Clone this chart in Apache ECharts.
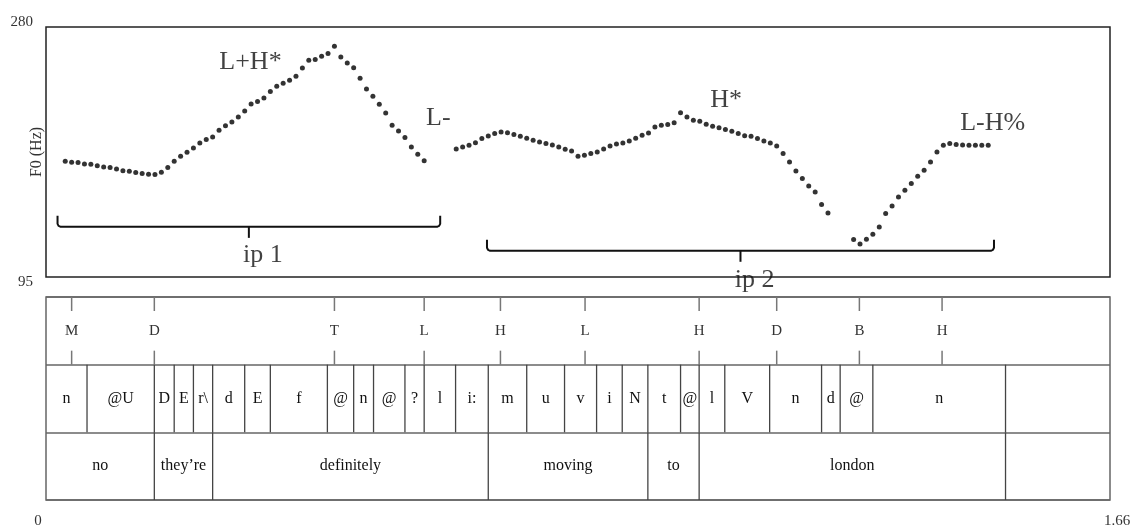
<!DOCTYPE html>
<html>
<head>
<meta charset="utf-8">
<script src="https://cdn.jsdelivr.net/npm/echarts@6/dist/echarts.min.js"></script>
<style>
html, body { margin: 0; padding: 0; background: #fff; }
#chart { width: 1134px; height: 526px; }
</style>
</head>
<body>
<div id="chart"></div>
<script>
// F0 track, three voiced stretches (time in s, F0 in Hz)
const f0Times1 = [0.03,0.04,0.05,0.06,0.07,0.08,0.09,0.10,0.11,0.12,0.13,0.14,0.15,0.16,0.17,0.18,0.19,0.20,0.21,0.22,0.23,0.24,0.25,0.26,0.27,0.28,0.29,0.30,0.31,0.32,0.33,0.34,0.35,0.36,0.37,0.38,0.39,0.40,0.41,0.42,0.43,0.44,0.45,0.46,0.47,0.48,0.49,0.50,0.51,0.52,0.53,0.54,0.55,0.56,0.57,0.58,0.59];
const f0Hz1 = [180.6,179.9,179.7,178.6,178.4,177.4,176.4,176.0,174.9,173.7,173.2,172.3,171.5,171.0,170.8,172.5,176.0,180.6,184.3,187.3,190.5,194.2,196.7,198.6,203.6,207.0,209.7,213.4,217.8,223.0,224.8,227.5,232.2,236.1,238.3,240.6,243.5,249.7,255.4,255.9,258.3,260.3,265.7,257.8,253.4,249.9,242.0,234.1,228.7,222.8,216.4,207.3,203.0,198.2,191.2,185.8,181.1];
const f0Times2 = [0.64,0.65,0.66,0.67,0.68,0.69,0.70,0.71,0.72,0.73,0.74,0.75,0.76,0.77,0.78,0.79,0.80,0.81,0.82,0.83,0.84,0.85,0.86,0.87,0.88,0.89,0.90,0.91,0.92,0.93,0.94,0.95,0.96,0.97,0.98,0.99,1.00,1.01,1.02,1.03,1.04,1.05,1.06,1.07,1.08,1.09,1.10,1.11,1.12,1.13,1.14,1.15,1.16,1.17,1.18,1.19,1.20,1.21,1.22];
const f0Hz2 = [189.7,191.2,192.5,194.4,197.4,199.3,201.1,202.3,201.8,200.4,199.1,197.6,196.2,194.9,193.7,192.7,191.2,189.5,188.2,184.3,185.1,186.3,187.5,189.7,191.9,193.4,194.2,195.6,197.6,199.9,201.6,206.0,207.3,207.8,209.2,216.6,213.4,211.0,210.2,208.0,206.5,205.5,204.1,202.8,201.1,199.6,199.1,197.4,195.6,194.2,191.9,186.3,180.1,173.4,167.8,162.3,157.9,148.6,142.4];
const f0Times3 = [1.26,1.27,1.28,1.29,1.30,1.31,1.32,1.33,1.34,1.35,1.36,1.37,1.38,1.39,1.40,1.41,1.42,1.43,1.44,1.45,1.46,1.47];
const f0Hz3 = [122.7,119.4,122.9,126.6,132.0,141.9,147.5,154.2,159.2,164.1,169.5,174.0,180.1,187.5,192.5,193.7,193.0,192.7,192.5,192.5,192.5,192.5];

// tone tier (points)
const toneTimes = [0.040,0.169,0.450,0.590,0.709,0.841,1.019,1.140,1.269,1.398];
const toneLabels = ['M','D','T','L','H','L','H','D','B','H'];

// segment tier (intervals)
const segBounds = [0,0.064,0.169,0.200,0.230,0.260,0.310,0.350,0.439,0.480,0.511,0.560,0.590,0.639,0.690,0.750,0.809,0.859,0.899,0.939,0.990,1.019,1.059,1.129,1.210,1.239,1.290,1.497,1.66];
const segLabels = ['n','@U','D','E','r\\','d','E','f','@','n','@','?','l','i:','m','u','v','i','N','t','@','l','V','n','d','@','n',''];

// word tier (intervals)
const wordBounds = [0,0.169,0.260,0.690,0.939,1.019,1.497,1.66];
const wordLabels = ['no','they\u2019re','definitely','moving','to','london',''];

// intonation labels on the F0 panel
const accentLabels = ['L+H*','L-','H*','L-H%'];
const accentTimes = [0.319,0.612,1.061,1.477];
const accentHz = [253.9,212.4,225.8,208.7];

// intermediate phrase brackets
const phraseLabels = ['ip 1','ip 2'];
const phraseStart = [0.018,0.688];
const phraseEnd = [0.615,1.479];
const phraseHz = [132.1,114.4];
const phraseLabelHz = [111.1,92.6];

const f0Min = 95, f0Max = 280;
const tMin = 0, tMax = 1.66;

const serif = '"Liberation Serif", "Times New Roman", serif';

const f0Data = [];
[[f0Times1, f0Hz1], [f0Times2, f0Hz2], [f0Times3, f0Hz3]].forEach(([ts, hz]) => {
    ts.forEach((t, i) => f0Data.push([t, hz[i]]));
});

const intervalData = [];
const intervalText = [];
[[segBounds, segLabels, 1], [wordBounds, wordLabels, 2]].forEach(([b, labels, tier]) => {
    labels.forEach((lab, i) => {
        intervalData.push([b[i], b[i + 1], tier]);
        intervalText.push(lab);
    });
});

const chart = echarts.init(document.getElementById('chart'));

const option = {
    animation: false,
    grid: [
        { left: 46, top: 27, width: 1064, height: 250, outerBoundsMode: 'none', containLabel: false, show: true, borderColor: '#222', borderWidth: 1.5, backgroundColor: 'transparent' },
        { left: 46, top: 297, width: 1064, height: 203, outerBoundsMode: 'none', containLabel: false, show: true, borderColor: '#666', borderWidth: 1.5, backgroundColor: 'transparent' }
    ],
    xAxis: [
        { gridIndex: 0, type: 'value', min: tMin, max: tMax, show: false },
        {
            gridIndex: 1, type: 'value', min: tMin, max: tMax, interval: tMax - tMin,
            axisLine: { show: false }, axisTick: { show: false }, splitLine: { show: false },
            axisLabel: {
                margin: 14,
                formatter: v => v === tMin ? '{a|' + tMin + '}' : '{b|' + tMax + '}',
                rich: {
                    a: { fontFamily: serif, fontSize: 15, color: '#333', padding: [0, 16, 0, 0] },
                    b: { fontFamily: serif, fontSize: 15, color: '#333', padding: [0, 0, 0, 14] }
                }
            }
        }
    ],
    yAxis: [
        {
            gridIndex: 0, type: 'value', min: f0Min, max: f0Max, interval: f0Max - f0Min,
            axisLine: { show: false }, axisTick: { show: false }, splitLine: { show: false },
            name: 'F0 (Hz)', nameLocation: 'middle', nameRotate: 90, nameGap: 1, nameMoveOverlap: false,
            nameTextStyle: { fontFamily: serif, fontSize: 16, color: '#333' },
            axisLabel: {
                margin: 13,
                formatter: v => v === f0Max ? '{t|' + v + '}' : '{d|' + v + '}',
                rich: {
                    t: { fontFamily: serif, fontSize: 15, color: '#333', padding: [0, 0, 10, 0] },
                    d: { fontFamily: serif, fontSize: 15, color: '#333', padding: [10, 0, 0, 0] }
                }
            }
        },
        {
            gridIndex: 1, type: 'value', min: 0, max: 3, interval: 1, inverse: true,
            axisLine: { show: false }, axisTick: { show: false }, axisLabel: { show: false },
            splitLine: { show: true, lineStyle: { color: '#666', width: 1.5 } }
        }
    ],
    series: [
        {
            type: 'scatter', xAxisIndex: 0, yAxisIndex: 0,
            data: f0Data, symbolSize: 5,
            itemStyle: { color: '#000' }
        },
        {
            type: 'scatter', xAxisIndex: 0, yAxisIndex: 0, clip: false,
            data: accentTimes.map((t, i) => ({ value: [t, accentHz[i]], name: accentLabels[i] }))
                .concat(phraseLabels.map((lab, i) => ({ value: [(phraseStart[i] + phraseEnd[i]) / 2 + 0.022, phraseLabelHz[i]], name: lab }))),
            symbolSize: 0,
            label: {
                show: true, position: 'inside', formatter: p => p.name,
                fontFamily: serif, fontSize: 26, color: '#111'
            }
        },
        {
            type: 'custom', xAxisIndex: 0, yAxisIndex: 0, clip: false,
            data: phraseStart.map((t, i) => [t, phraseEnd[i], phraseHz[i]]),
            renderItem: (params, api) => {
                const a = api.coord([api.value(0), api.value(2)]);
                const b = api.coord([api.value(1), api.value(2)]);
                const y = a[1], x0 = a[0], x1 = b[0], xm = (x0 + x1) / 2;
                const st = { stroke: '#111', lineWidth: 2, fill: null };
                return {
                    type: 'group',
                    children: [
                        { type: 'polyline', shape: { points: [[x0, y - 11], [x0, y - 3], [x0 + 1, y - 1], [x0 + 3, y], [x1 - 3, y], [x1 - 1, y - 1], [x1, y - 3], [x1, y - 11]] }, style: st },
                        { type: 'line', shape: { x1: xm, y1: y, x2: xm, y2: y + 11 }, style: st }
                    ]
                };
            }
        },
        {
            type: 'custom', xAxisIndex: 1, yAxisIndex: 1,
            data: toneTimes.map(t => [t, 0]),
            renderItem: (params, api) => {
                const p = api.coord([api.value(0), 0]);
                const q = api.coord([api.value(0), 1]);
                const st = { stroke: '#777', lineWidth: 1.5 };
                return {
                    type: 'group',
                    children: [
                        { type: 'line', shape: { x1: p[0], y1: p[1], x2: p[0], y2: p[1] + 14 }, style: st },
                        { type: 'line', shape: { x1: q[0], y1: q[1] - 14, x2: q[0], y2: q[1] }, style: st },
                        { type: 'text', style: { text: toneLabels[params.dataIndex], x: p[0], y: (p[1] + q[1]) / 2, align: 'center', verticalAlign: 'middle', fontFamily: serif, fontSize: 15, fill: '#333' } }
                    ]
                };
            }
        },
        {
            type: 'custom', xAxisIndex: 1, yAxisIndex: 1,
            data: intervalData,
            renderItem: (params, api) => {
                const a = api.coord([api.value(0), api.value(2)]);
                const b = api.coord([api.value(1), api.value(2) + 1]);
                const children = [
                    { type: 'text', style: { text: intervalText[params.dataIndex], x: (a[0] + b[0]) / 2, y: (a[1] + b[1]) / 2, align: 'center', verticalAlign: 'middle', fontFamily: serif, fontSize: 16, fill: '#111' } }
                ];
                if (api.value(0) > tMin) {
                    children.push({ type: 'line', shape: { x1: a[0], y1: a[1], x2: a[0], y2: b[1] }, style: { stroke: '#444', lineWidth: 1.3 } });
                }
                return { type: 'group', children: children };
            }
        }
    ]
};

chart.setOption(option);
</script>
</body>
</html>
